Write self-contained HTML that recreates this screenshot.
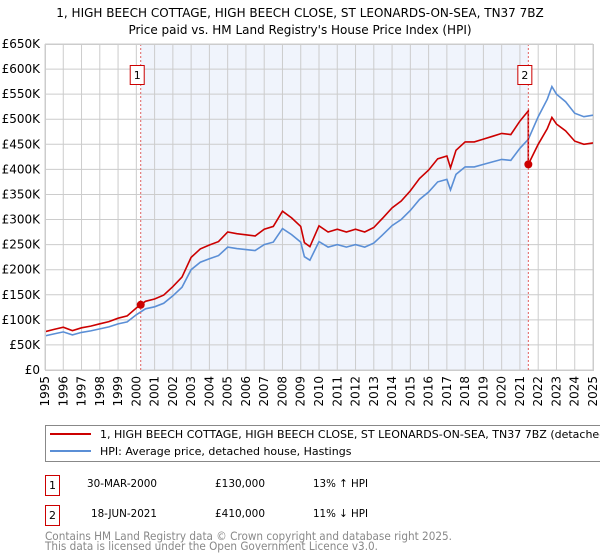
<!DOCTYPE html>
<html><head><meta charset="utf-8"><style>
body{margin:0;background:#fff;font-family:"DejaVu Sans","Liberation Sans",sans-serif;}
svg{display:block;font-family:"DejaVu Sans","Liberation Sans",sans-serif}
</style></head><body>
<svg id="chart" width="600" height="560" xmlns="http://www.w3.org/2000/svg">
<text x="300" y="17" text-anchor="middle" font-size="12" fill="#000">1, HIGH BEECH COTTAGE, HIGH BEECH CLOSE, ST LEONARDS-ON-SEA, TN37 7BZ</text>
<text x="300" y="34" text-anchor="middle" font-size="12" fill="#000">Price paid vs. HM Land Registry's House Price Index (HPI)</text>
<g id="plot"></g>
<g>
<rect x="45.5" y="425.5" width="570" height="36" fill="#fff" stroke="#888"/>
<line x1="50" y1="434" x2="91" y2="434" stroke="#cc0000" stroke-width="2"/>
<text x="100" y="438" font-size="11">1, HIGH BEECH COTTAGE, HIGH BEECH CLOSE, ST LEONARDS-ON-SEA, TN37 7BZ (detached house)</text>
<line x1="50" y1="451" x2="91" y2="451" stroke="#5b8fd6" stroke-width="2"/>
<text x="100" y="455" font-size="11">HPI: Average price, detached house, Hastings</text>
</g>
<g font-size="11">
<rect x="45.5" y="475.5" width="14" height="20" fill="#fff" stroke="#cc0000"/>
<text x="52.5" y="489" text-anchor="middle">1</text>
<text x="87" y="487" textLength="70" lengthAdjust="spacingAndGlyphs">30-MAR-2000</text>
<text x="215" y="487" textLength="50" lengthAdjust="spacingAndGlyphs">£130,000</text>
<text x="313" y="487" textLength="55" lengthAdjust="spacingAndGlyphs">13% ↑ HPI</text>
<rect x="45.5" y="505.5" width="14" height="20" fill="#fff" stroke="#cc0000"/>
<text x="52.5" y="519" text-anchor="middle">2</text>
<text x="91" y="517" textLength="66" lengthAdjust="spacingAndGlyphs">18-JUN-2021</text>
<text x="215" y="517" textLength="50" lengthAdjust="spacingAndGlyphs">£410,000</text>
<text x="313" y="517" textLength="55" lengthAdjust="spacingAndGlyphs">11% ↓ HPI</text>
</g>
<text x="45" y="540" font-size="11.5" fill="#888" textLength="407" lengthAdjust="spacingAndGlyphs">Contains HM Land Registry data © Crown copyright and database right 2025.</text>
<text x="45" y="550" font-size="11.5" fill="#888" textLength="333" lengthAdjust="spacingAndGlyphs">This data is licensed under the Open Government Licence v3.0.</text>
</svg>
<script>
const hpiYears=[1995,1995.5,1996,1996.5,1997,1997.5,1998,1998.5,1999,1999.5,2000,2000.5,2001,2001.5,2002,2002.5,2003,2003.5,2004,2004.5,2005,2005.5,2006,2006.5,2007,2007.5,2008,2008.5,2009,2009.2,2009.5,2010,2010.5,2011,2011.5,2012,2012.5,2013,2013.5,2014,2014.5,2015,2015.5,2016,2016.5,2017,2017.2,2017.5,2018,2018.5,2019,2019.5,2020,2020.5,2021,2021.46,2022,2022.5,2022.75,2023,2023.5,2024,2024.5,2025];
const hpiValues=[68,72,76,70,75,78,82,86,92,96,110,122,126,133,148,165,200,215,222,228,245,242,240,238,250,255,282,270,255,226,219,256,245,250,245,250,245,253,270,288,300,318,340,355,375,380,359,390,405,405,410,415,420,418,442,460,505,540,565,550,535,512,505,508];
const saleYears=[2000.24,2021.46];
const salePrices=[130,410];
const yTicks=[0,50,100,150,200,250,300,350,400,450,500,550,600,650];
const xTicks=[1995,1996,1997,1998,1999,2000,2001,2002,2003,2004,2005,2006,2007,2008,2009,2010,2011,2012,2013,2014,2015,2016,2017,2018,2019,2020,2021,2022,2023,2024,2025];
const X0=45,X1=593,Y0=370,Y1=44;
const xs=y=>X0+(y-1995)/30*(X1-X0);
const ys=v=>Y0-v/650*(Y0-Y1);
const NS='http://www.w3.org/2000/svg';
const plot=document.getElementById('plot');
function mk(t,a){const e=document.createElementNS(NS,t);for(const k in a)e.setAttribute(k,a[k]);plot.appendChild(e);return e;}
function hpiAt(y){for(let i=0;i<hpiYears.length-1;i++){if(y>=hpiYears[i]&&y<=hpiYears[i+1]){const t=(y-hpiYears[i])/(hpiYears[i+1]-hpiYears[i]);return hpiValues[i]+t*(hpiValues[i+1]-hpiValues[i]);}}return hpiValues[hpiValues.length-1];}
let bg=mk('rect',{x:X0,y:Y1,width:X1-X0,height:Y0-Y1,fill:'#fff'});


let sh=mk('rect',{x:xs(saleYears[0]),y:Y1,width:xs(saleYears[1])-xs(saleYears[0]),height:Y0-Y1,fill:'#f0f4fc'});


yTicks.forEach(v=>{
 const l=mk('line',{x1:X0,x2:X1,y1:ys(v),y2:ys(v),stroke:'#ccc','stroke-width':1});
 
 
 const t=mk('text',{x:40,y:ys(v)+4,'text-anchor':'end','font-size':12});
 t.textContent=v===0?'£0':'£'+v+'K';
 
 
});
xTicks.forEach(y=>{
 const l=mk('line',{x1:xs(y),x2:xs(y),y1:Y1,y2:Y0,stroke:'#ccc','stroke-width':1});
 
 
 const t=mk('text',{x:xs(y),y:Y0+6,'text-anchor':'end','font-size':12,transform:`rotate(-90 ${xs(y)} ${Y0+6})`,dy:'4'});
 t.textContent=y;
 
 
});
let hp=hpiYears.map((y,i)=>xs(y).toFixed(1)+','+ys(hpiValues[i]).toFixed(1)).join(' ');
let hl=mk('polyline',{points:hp,fill:'none',stroke:'#5b8fd6','stroke-width':1.6});


let pts=[];
const r1=salePrices[0]/hpiAt(saleYears[0]), r2=salePrices[1]/hpiAt(saleYears[1]);
hpiYears.forEach((y,i)=>{ if(y<saleYears[1]) pts.push([y,hpiValues[i]*r1]); });
pts.push([saleYears[1],hpiAt(saleYears[1])*r1]);
pts.push([saleYears[1],salePrices[1]]);
hpiYears.forEach((y,i)=>{if(y>saleYears[1]) pts.push([y,hpiValues[i]*r2]);});
let pl=mk('polyline',{points:pts.map(p=>xs(p[0]).toFixed(1)+','+ys(p[1]).toFixed(1)).join(' '),fill:'none',stroke:'#cc0000','stroke-width':1.6});


saleYears.forEach((y,i)=>{
 const d=mk('line',{x1:xs(y),x2:xs(y),y1:Y1,y2:Y0,stroke:'#e06060','stroke-dasharray':'2,2','stroke-width':1});
 
 
 const c=mk('circle',{cx:xs(y),cy:ys(salePrices[i]),r:4,fill:'#cc0000'});
 
 
 const b=mk('rect',{x:xs(y)-10.5,y:65.5,width:14,height:19,fill:'#fff',stroke:'#cc0000'});
 
 
 const t=mk('text',{x:xs(y)-3.5,y:79,'text-anchor':'middle','font-size':11});
 t.textContent=String(i+1);
 
 
});
let fr=mk('rect',{x:X0+0.5,y:Y1+0.5,width:X1-X0,height:Y0-Y1,fill:'none',stroke:'#ccc'});


</script>
</body></html>
